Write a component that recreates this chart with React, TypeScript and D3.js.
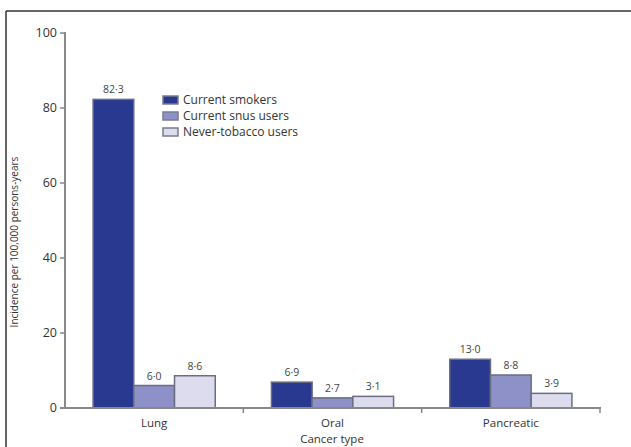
import React from "react";
import * as d3 from "d3";

const categories = ["Lung", "Oral", "Pancreatic"];
const seriesNames = ["Current smokers", "Current snus users", "Never-tobacco users"];
const smokers = [82.3, 6.9, 13.0];
const snus = [6.0, 2.7, 8.8];
const never = [8.6, 3.1, 3.9];
const yTicks = [0, 20, 40, 60, 80, 100];
const colors = ["#28398f", "#8d91c7", "#dcdcee"];

const W = 631;
const H = 447;
const font = "'Open Sans', 'Noto Sans', sans-serif";

export default function App() {
  const seriesValues = [smokers, snus, never];
  const y = d3.scaleLinear().domain([0, 100]).range([408, 33]);
  const x0 = d3.scaleBand<string>().domain(categories).range([65, 600]).padding(0);
  const groupW = x0.bandwidth() * 0.685;
  const x1 = d3.scaleBand<string>().domain(seriesNames).range([0, groupW]).padding(0);
  const fmt = (v: number) => v.toFixed(1).replace(".", "·");
  const bounds = [...categories.map((c) => x0(c)!), 600];

  return (
    <svg width={W} height={H} style={{ position: "fixed", left: 0, top: 0, background: "#fff" }}>
      <rect x={0} y={0} width={W} height={H} fill="#fff" />
      <line x1={6} y1={11} x2={W} y2={11} stroke="#333" strokeWidth={1.5} />
      <line x1={6} y1={11} x2={6} y2={H} stroke="#333" strokeWidth={1.5} />

      {/* bars */}
      {categories.map((c, ci) => {
        const gx = x0(c)! + (x0.bandwidth() - groupW) / 2;
        return (
          <g key={c}>
            {seriesNames.map((s, si) => {
              const v = seriesValues[si][ci];
              const bx = gx + x1(s)!;
              return (
                <g key={s}>
                  <rect
                    x={bx}
                    y={y(v)}
                    width={x1.bandwidth()}
                    height={y(0) - y(v)}
                    fill={colors[si]}
                    stroke="#6c6e80"
                    strokeWidth={1.5}
                  />
                  <text
                    x={bx + x1.bandwidth() / 2}
                    y={y(v) - 6}
                    textAnchor="middle"
                    fontFamily={font}
                    fontSize={10.5}
                    fill="#444"
                  >
                    {fmt(v)}
                  </text>
                </g>
              );
            })}
          </g>
        );
      })}

      {/* y axis */}
      <line x1={65} y1={y(100) - 1} x2={65} y2={y(0)} stroke="#888" strokeWidth={2} />
      {yTicks.map((t) => (
        <g key={t}>
          <line x1={60} y1={y(t)} x2={65} y2={y(t)} stroke="#888" strokeWidth={1.5} />
          <text x={57} y={y(t)} dy="0.35em" textAnchor="end" fontFamily={font} fontSize={12.5} fill="#333">
            {t}
          </text>
        </g>
      ))}

      {/* x axis */}
      <line x1={60} y1={y(0)} x2={601} y2={y(0)} stroke="#888" strokeWidth={2} />
      {bounds.slice(1).map((b, i) => (
        <line key={i} x1={b} y1={y(0)} x2={b} y2={y(0) + 5} stroke="#888" strokeWidth={1.5} />
      ))}
      {categories.map((c) => (
        <text
          key={c}
          x={x0(c)! + x0.bandwidth() / 2}
          y={426.5}
          textAnchor="middle"
          fontFamily={font}
          fontSize={11.5}
          fill="#333"
        >
          {c}
        </text>
      ))}
      <text x={332} y={442.5} textAnchor="middle" fontFamily={font} fontSize={11.5} fill="#333">
        Cancer type
      </text>
      <text
        transform={`translate(18,242) rotate(-90)`}
        textAnchor="middle"
        fontFamily={font}
        fontSize={10}
        fill="#333"
      >
        Incidence per 100,000 persons-years
      </text>

      {/* legend */}
      {seriesNames.map((s, i) => (
        <g key={s} transform={`translate(163, ${100 + i * 16})`}>
          <rect x={0} y={-4} width={15} height={8} fill={colors[i]} stroke="#7a7c8c" strokeWidth={1.5} />
          <text x={20} y={0} dy="0.35em" fontFamily={font} fontSize={12} fill="#333">
            {s}
          </text>
        </g>
      ))}
    </svg>
  );
}
